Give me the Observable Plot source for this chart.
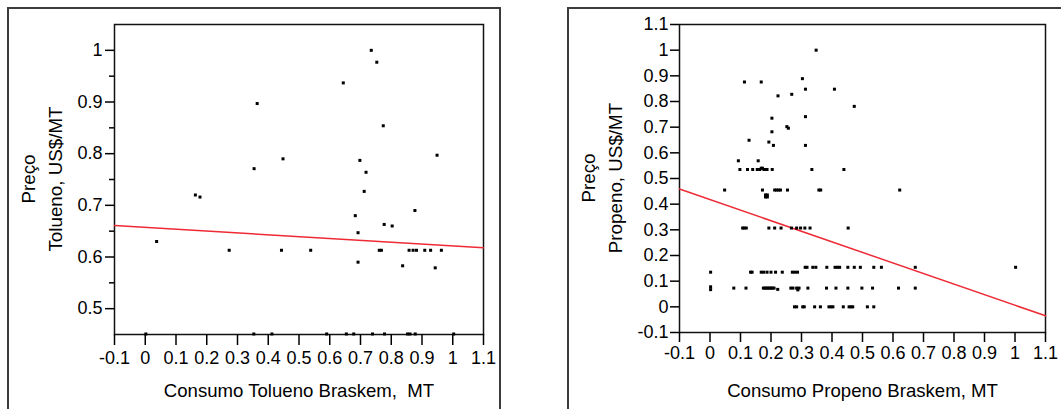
<!DOCTYPE html>
<html>
<head>
<meta charset="utf-8">
<script src="https://cdn.jsdelivr.net/npm/d3@7"></script>
<script src="https://cdn.jsdelivr.net/npm/@observablehq/plot@0.6"></script>
<style>
  body { margin: 0; background: #fff; width: 1061px; height: 409px; overflow: hidden; position: relative; }
  .panel { position: absolute; top: 0; }
  .box { position: absolute; border: 2px solid #3c3c3c; box-sizing: border-box; pointer-events: none; }
</style>
</head>
<body>
<div id="left" class="panel" style="left:0"></div>
<div id="right" class="panel" style="left:540px"></div>
<div class="box" style="left:7px;top:7px;width:494px;height:430px"></div>
<div class="box" style="left:567px;top:7px;width:520px;height:430px"></div>
<script>
// ---------- data ----------
const xTicks = [-0.1, 0, 0.1, 0.2, 0.3, 0.4, 0.5, 0.6, 0.7, 0.8, 0.9, 1, 1.1];

// Tolueno (left panel)
const toluenoX = [0.735, 0.753, 0.644, 0.364, 0.774, 0.448, 0.949, 0.354, 0.698, 0.718, 0.712, 0.163, 0.178,
  0.683, 0.877, 0.777, 0.803, 0.692, 0.037,
  0.273, 0.443, 0.538, 0.761, 0.768, 0.858, 0.871, 0.882, 0.909, 0.928, 0.963,
  0.692, 0.837, 0.943,
  0.002, 0.353, 0.412, 0.590, 0.654, 0.678, 0.739, 0.778, 0.853, 0.861, 0.878, 1.003];
const toluenoY = [1.000, 0.977, 0.937, 0.897, 0.854, 0.790, 0.797, 0.771, 0.787, 0.764, 0.727, 0.720, 0.716,
  0.680, 0.690, 0.663, 0.660, 0.647, 0.630,
  0.613, 0.613, 0.613, 0.613, 0.613, 0.613, 0.613, 0.613, 0.613, 0.613, 0.613,
  0.590, 0.583, 0.579,
  0.451, 0.451, 0.451, 0.451, 0.451, 0.451, 0.451, 0.451, 0.451, 0.451, 0.451, 0.451];
const toluenoFitX = [-0.1, 1.1];
const toluenoFitY = [0.661, 0.618];
const toluenoYMajor = [0.5, 0.6, 0.7, 0.8, 0.9, 1];
const toluenoYMinor = [0.55, 0.65, 0.75, 0.85, 0.95];

// Propeno (right panel)
const propenoX = [0.348,
  0.113, 0.168, 0.303, 0.313, 0.408, 0.223, 0.268, 0.473, 0.203, 0.313, 0.203, 0.252, 0.257,
  0.128, 0.193, 0.208, 0.313, 0.093, 0.158,
  0.098, 0.123, 0.140, 0.155, 0.163, 0.168, 0.172, 0.177, 0.182, 0.187, 0.204, 0.334, 0.439,
  0.048, 0.172, 0.212, 0.218, 0.225, 0.231, 0.254, 0.357, 0.363, 0.622,
  0.182, 0.188, 0.182, 0.188,
  0.107, 0.112, 0.119, 0.193, 0.212, 0.233, 0.267, 0.284, 0.297, 0.311, 0.328, 0.453,
  0.312, 0.318, 0.337, 0.347, 0.383, 0.410, 0.418, 0.425, 0.452, 0.473, 0.493, 0.537, 0.562, 0.673, 1.002,
  0.002, 0.133, 0.138, 0.168, 0.176, 0.187, 0.200, 0.215, 0.237, 0.270, 0.278, 0.287,
  0.002, 0.002, 0.078, 0.118, 0.175, 0.180, 0.185, 0.190, 0.195, 0.200, 0.205, 0.210, 0.222, 0.265, 0.272,
  0.284, 0.288, 0.292, 0.321, 0.382, 0.413, 0.452, 0.498, 0.533, 0.618, 0.673,
  0.277, 0.284, 0.304, 0.309, 0.343, 0.362, 0.390, 0.397, 0.403, 0.437, 0.456, 0.462, 0.468, 0.516, 0.537];
const propenoY = [1.000,
  0.876, 0.876, 0.889, 0.848, 0.848, 0.822, 0.828, 0.781, 0.735, 0.741, 0.682, 0.702, 0.696,
  0.649, 0.642, 0.629, 0.629, 0.569, 0.569,
  0.535, 0.535, 0.535, 0.535, 0.535, 0.540, 0.540, 0.535, 0.535, 0.535, 0.535, 0.535, 0.535,
  0.455, 0.455, 0.455, 0.455, 0.455, 0.455, 0.455, 0.455, 0.455, 0.455,
  0.428, 0.428, 0.436, 0.436,
  0.307, 0.307, 0.307, 0.307, 0.307, 0.307, 0.307, 0.307, 0.307, 0.307, 0.307, 0.307,
  0.154, 0.154, 0.154, 0.154, 0.154, 0.154, 0.154, 0.154, 0.154, 0.154, 0.154, 0.154, 0.154, 0.154, 0.154,
  0.135, 0.135, 0.135, 0.135, 0.135, 0.135, 0.135, 0.135, 0.135, 0.135, 0.135, 0.135,
  0.067, 0.078, 0.073, 0.073, 0.073, 0.073, 0.073, 0.073, 0.073, 0.073, 0.073, 0.073, 0.068, 0.073, 0.073,
  0.073, 0.066, 0.073, 0.073, 0.073, 0.073, 0.073, 0.073, 0.073, 0.073, 0.073,
  0.000, 0.000, 0.000, 0.000, 0.000, 0.000, 0.000, 0.000, 0.000, 0.000, 0.000, 0.000, 0.000, 0.000, 0.000];
const propenoFitX = [-0.1, 1.1];
const propenoFitY = [0.459, -0.035];
const propenoYMajor = [-0.1, 0, 0.1, 0.2, 0.3, 0.4, 0.5, 0.6, 0.7, 0.8, 0.9, 1, 1.1];

// ---------- chart builder ----------
const fmt = d => String(+(+d).toFixed(2));

function panel(o) {
  const pts = o.xs.map((x, i) => ({x, y: o.ys[i]}));
  const fit = o.fitX.map((x, i) => ({x, y: o.fitY[i]}));
  const marks = [
    Plot.frame({stroke: "#111", strokeWidth: 1.5}),
    Plot.axisX(xTicks, {tickSize: o.xTickSize, tickPadding: o.xTickPad, tickFormat: fmt, label: null, strokeWidth: 1.5}),
    Plot.axisY(o.yMajor, {tickSize: 9, tickPadding: o.yTickPad, tickFormat: fmt, label: null, strokeWidth: 1.5})
  ];
  if (o.yMinor) marks.push(Plot.axisY(o.yMinor, {tickSize: 5, tickFormat: () => "", label: null, strokeWidth: 1.5}));
  marks.push(
    Plot.line(fit, {x: "x", y: "y", stroke: "#ee2a35", strokeWidth: 1.5}),
    Plot.dot(pts, {x: "x", y: "y", symbol: "square", r: 1.7, fill: "#000"}),
    Plot.text([o.xTitle], {frameAnchor: "bottom", dy: o.xTitleDy, lineAnchor: "middle", fill: "#000", fontSize: 18.6})
  );
  const svg = Plot.plot({
    width: o.width, height: 409,
    marginLeft: o.ml, marginRight: o.mr, marginTop: 24, marginBottom: o.mb,
    x: {domain: [-0.1, 1.1], axis: null},
    y: {domain: o.yDomain, axis: null},
    style: {fontFamily: "'Liberation Sans', Arial, sans-serif", fontSize: "18px", color: "#000", background: "none", overflow: "visible"},
    marks
  });
  // two-line rotated y-axis title
  const g = d3.select(svg).append("g").attr("fill", "#000").attr("text-anchor", "middle").attr("font-size", 18.8);
  o.yTitles.forEach((t, i) => {
    g.append("text")
      .attr("transform", `translate(${o.yTitleX[i]},${o.yTitleY}) rotate(-90)`)
      .attr("dy", "0.32em")
      .text(t);
  });
  return svg;
}

document.getElementById("left").append(panel({
  xs: toluenoX, ys: toluenoY, fitX: toluenoFitX, fitY: toluenoFitY,
  yDomain: [0.45, 1.05], yMajor: toluenoYMajor, yMinor: toluenoYMinor,
  width: 530, ml: 114, mr: 47, mb: 75,
  xTickSize: 11, xTickPad: 6, yTickPad: 3,
  yTitles: ["Preço", "Tolueno, US$/MT"], yTitleX: [28.5, 56], yTitleY: 179,
  xTitle: "Consumo Tolueno Braskem,  MT", xTitleDy: 56.7
}));

document.getElementById("right").append(panel({
  xs: propenoX, ys: propenoY, fitX: propenoFitX, fitY: propenoFitY,
  yDomain: [-0.1, 1.1], yMajor: propenoYMajor, yMinor: null,
  width: 521, ml: 139, mr: 16, mb: 77,
  xTickSize: 10, xTickPad: 4, yTickPad: 2,
  yTitles: ["Preço", "Propeno, US$/MT"], yTitleX: [48.5, 76], yTitleY: 178,
  xTitle: "Consumo Propeno Braskem, MT", xTitleDy: 58.7
}));
</script>
</body>
</html>
